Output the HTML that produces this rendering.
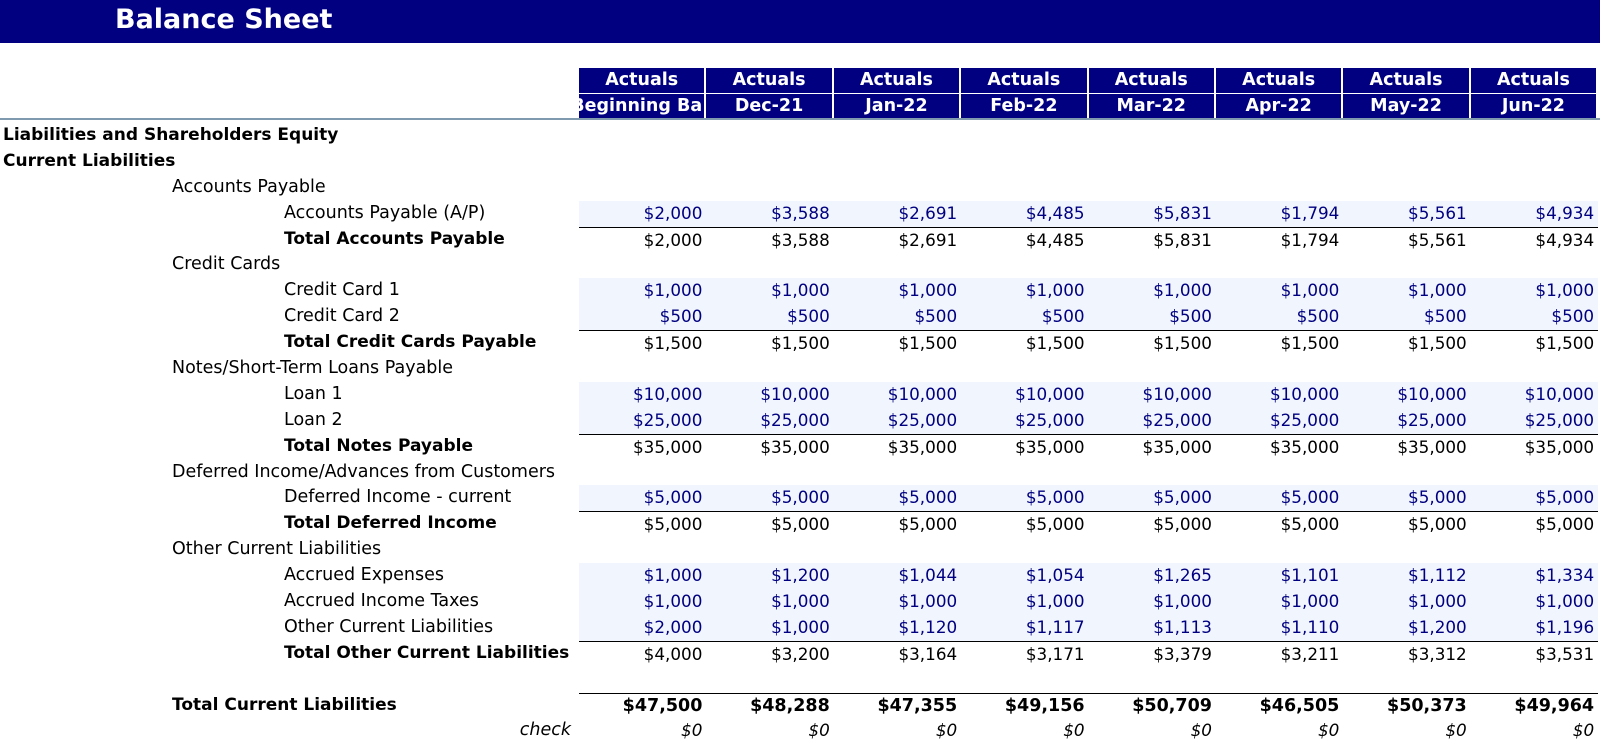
<!DOCTYPE html>
<html><head><meta charset="utf-8"><style>
*{margin:0;padding:0;box-sizing:border-box}
body{width:1600px;height:741px;background:#fff;font-family:"DejaVu Sans",Verdana,sans-serif;font-size:17.5px;color:#000;position:relative;overflow:hidden}
.title{position:absolute;left:0;top:0;width:1600px;height:43px;background:#000080;color:#fff;font-weight:bold;font-size:27px;line-height:40px;padding-left:115px}
.hdr{position:absolute;left:579px;height:25px;display:flex}
.hdr div{width:127.4px;background:#000080;color:#fff;font-weight:bold;font-size:17.5px;text-align:center;line-height:25px;border-right:2px solid #fff;overflow:hidden;white-space:nowrap}
.hline{position:absolute;left:0;top:118px;width:1600px;height:2px;background:#7f9aae}
.rows{position:absolute;left:0;top:123px;width:1600px}
.r{height:25.9px;display:flex;line-height:25.9px;white-space:nowrap}
.l{width:579px;flex:none;overflow:visible}
.b{font-weight:bold;font-size:17px}
.c{width:127.4px;flex:none;text-align:right;padding-right:4px;font-size:16.8px;font-weight:normal}
.bt .c{font-weight:bold;font-size:17.5px}
.in .c{background:#f1f5fd;color:#000080}
.tot .c{border-top:1.5px solid #000;line-height:24px}
.l1{padding-left:3px}.l2{padding-left:172px}.l3{padding-left:284px}
.chk{font-style:italic}
</style></head><body>
<div class="title">Balance Sheet</div>
<div class="hdr" style="top:68px"><div>Actuals</div><div>Actuals</div><div>Actuals</div><div>Actuals</div><div>Actuals</div><div>Actuals</div><div>Actuals</div><div>Actuals</div></div>
<div class="hdr" style="top:94px"><div style="text-indent:-10px">Beginning Ba</div><div>Dec-21</div><div>Jan-22</div><div>Feb-22</div><div>Mar-22</div><div>Apr-22</div><div>May-22</div><div>Jun-22</div></div>
<div class="hline"></div>
<div class="rows">
<div class="r"><div class="l l1 b">Liabilities and Shareholders Equity</div></div>
<div class="r"><div class="l l1 b">Current Liabilities</div></div>
<div class="r"><div class="l l2">Accounts Payable</div></div>
<div class="r in"><div class="l l3">Accounts Payable (A/P)</div><div class="c">$2,000</div><div class="c">$3,588</div><div class="c">$2,691</div><div class="c">$4,485</div><div class="c">$5,831</div><div class="c">$1,794</div><div class="c">$5,561</div><div class="c">$4,934</div></div>
<div class="r tot"><div class="l l3 b">Total Accounts Payable</div><div class="c">$2,000</div><div class="c">$3,588</div><div class="c">$2,691</div><div class="c">$4,485</div><div class="c">$5,831</div><div class="c">$1,794</div><div class="c">$5,561</div><div class="c">$4,934</div></div>
<div class="r"><div class="l l2">Credit Cards</div></div>
<div class="r in"><div class="l l3">Credit Card 1</div><div class="c">$1,000</div><div class="c">$1,000</div><div class="c">$1,000</div><div class="c">$1,000</div><div class="c">$1,000</div><div class="c">$1,000</div><div class="c">$1,000</div><div class="c">$1,000</div></div>
<div class="r in"><div class="l l3">Credit Card 2</div><div class="c">$500</div><div class="c">$500</div><div class="c">$500</div><div class="c">$500</div><div class="c">$500</div><div class="c">$500</div><div class="c">$500</div><div class="c">$500</div></div>
<div class="r tot"><div class="l l3 b">Total Credit Cards Payable</div><div class="c">$1,500</div><div class="c">$1,500</div><div class="c">$1,500</div><div class="c">$1,500</div><div class="c">$1,500</div><div class="c">$1,500</div><div class="c">$1,500</div><div class="c">$1,500</div></div>
<div class="r"><div class="l l2">Notes/Short-Term Loans Payable</div></div>
<div class="r in"><div class="l l3">Loan 1</div><div class="c">$10,000</div><div class="c">$10,000</div><div class="c">$10,000</div><div class="c">$10,000</div><div class="c">$10,000</div><div class="c">$10,000</div><div class="c">$10,000</div><div class="c">$10,000</div></div>
<div class="r in"><div class="l l3">Loan 2</div><div class="c">$25,000</div><div class="c">$25,000</div><div class="c">$25,000</div><div class="c">$25,000</div><div class="c">$25,000</div><div class="c">$25,000</div><div class="c">$25,000</div><div class="c">$25,000</div></div>
<div class="r tot"><div class="l l3 b">Total Notes Payable</div><div class="c">$35,000</div><div class="c">$35,000</div><div class="c">$35,000</div><div class="c">$35,000</div><div class="c">$35,000</div><div class="c">$35,000</div><div class="c">$35,000</div><div class="c">$35,000</div></div>
<div class="r"><div class="l l2">Deferred Income/Advances from Customers</div></div>
<div class="r in"><div class="l l3">Deferred Income - current</div><div class="c">$5,000</div><div class="c">$5,000</div><div class="c">$5,000</div><div class="c">$5,000</div><div class="c">$5,000</div><div class="c">$5,000</div><div class="c">$5,000</div><div class="c">$5,000</div></div>
<div class="r tot"><div class="l l3 b">Total Deferred Income</div><div class="c">$5,000</div><div class="c">$5,000</div><div class="c">$5,000</div><div class="c">$5,000</div><div class="c">$5,000</div><div class="c">$5,000</div><div class="c">$5,000</div><div class="c">$5,000</div></div>
<div class="r"><div class="l l2">Other Current Liabilities</div></div>
<div class="r in"><div class="l l3">Accrued Expenses</div><div class="c">$1,000</div><div class="c">$1,200</div><div class="c">$1,044</div><div class="c">$1,054</div><div class="c">$1,265</div><div class="c">$1,101</div><div class="c">$1,112</div><div class="c">$1,334</div></div>
<div class="r in"><div class="l l3">Accrued Income Taxes</div><div class="c">$1,000</div><div class="c">$1,000</div><div class="c">$1,000</div><div class="c">$1,000</div><div class="c">$1,000</div><div class="c">$1,000</div><div class="c">$1,000</div><div class="c">$1,000</div></div>
<div class="r in"><div class="l l3">Other Current Liabilities</div><div class="c">$2,000</div><div class="c">$1,000</div><div class="c">$1,120</div><div class="c">$1,117</div><div class="c">$1,113</div><div class="c">$1,110</div><div class="c">$1,200</div><div class="c">$1,196</div></div>
<div class="r tot"><div class="l l3 b">Total Other Current Liabilities</div><div class="c">$4,000</div><div class="c">$3,200</div><div class="c">$3,164</div><div class="c">$3,171</div><div class="c">$3,379</div><div class="c">$3,211</div><div class="c">$3,312</div><div class="c">$3,531</div></div>
<div class="r"></div>
<div class="r tot bt"><div class="l l2 b">Total Current Liabilities</div><div class="c">$47,500</div><div class="c">$48,288</div><div class="c">$47,355</div><div class="c">$49,156</div><div class="c">$50,709</div><div class="c">$46,505</div><div class="c">$50,373</div><div class="c">$49,964</div></div>
<div class="r chk"><div class="l" style="text-align:right;padding-right:8px">check</div><div class="c">$0</div><div class="c">$0</div><div class="c">$0</div><div class="c">$0</div><div class="c">$0</div><div class="c">$0</div><div class="c">$0</div><div class="c">$0</div></div>
</div>
</body></html>
